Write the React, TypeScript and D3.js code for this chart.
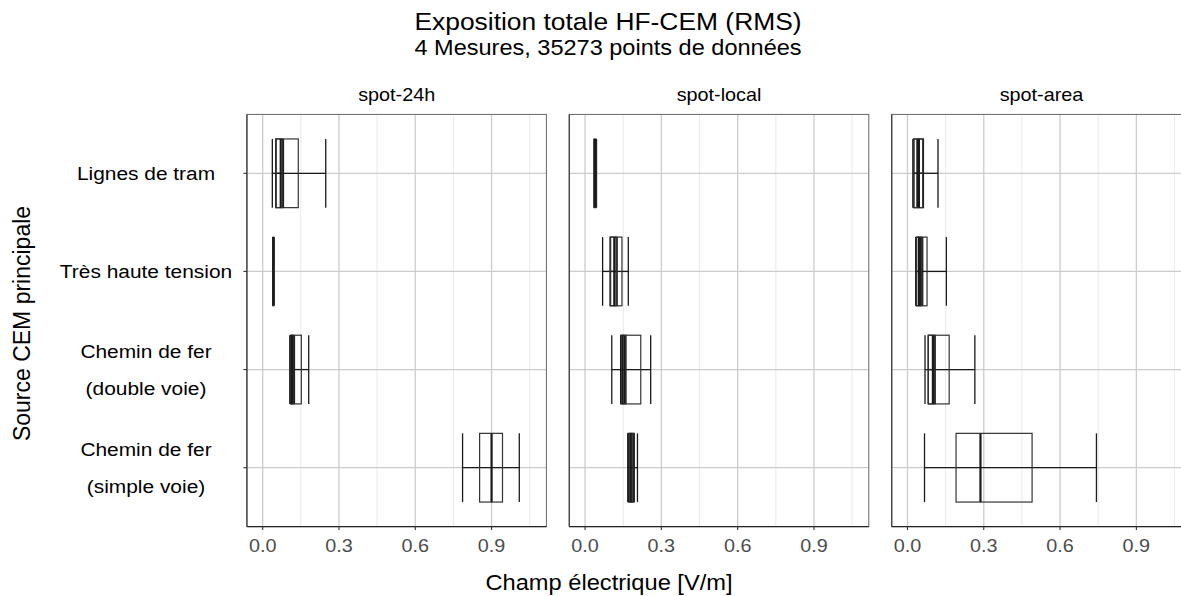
import React from "react";
import * as d3 from "d3";

const facets = ["spot-24h", "spot-local", "spot-area"];
const categories = ["Lignes de tram", "Très haute tension", "Chemin de fer (double voie)", "Chemin de fer (simple voie)"];
const categoryLines = [["Lignes de tram"], ["Très haute tension"], ["Chemin de fer", "(double voie)"], ["Chemin de fer", "(simple voie)"]];
const xTicks = [0, 0.3, 0.6, 0.9];
const xMinor = [0.15, 0.45, 0.75, 1.05];

// boxplot stats: facet, category index, min, q1, median, q3, max
const boxFacet = ["spot-24h", "spot-24h", "spot-24h", "spot-24h", "spot-24h", "spot-24h",
  "spot-local", "spot-local", "spot-local", "spot-local", "spot-local", "spot-local", "spot-local",
  "spot-area", "spot-area", "spot-area", "spot-area", "spot-area", "spot-area", "spot-area"];
const boxCat = [0, 0, 1, 2, 2, 3,
  0, 1, 1, 2, 2, 3, 3,
  0, 0, 1, 1, 2, 2, 3];
const boxMin = [0.038, 0.052, 0.040, 0.107, 0.108, 0.786,
  0.035, 0.069, 0.100, 0.105, 0.140, 0.168, 0.170,
  0.022, 0.022, 0.033, 0.033, 0.069, 0.082, 0.067];
const boxQ1 = [0.052, 0.052, 0.041, 0.110, 0.112, 0.853,
  0.036, 0.098, 0.100, 0.140, 0.145, 0.170, 0.174,
  0.026, 0.024, 0.036, 0.035, 0.082, 0.082, 0.191];
const boxMed = [0.080, 0.071, 0.042, 0.120, 0.116, 0.900,
  0.039, 0.124, 0.115, 0.157, 0.148, 0.190, 0.180,
  0.039, 0.045, 0.050, 0.045, 0.107, 0.100, 0.287];
const boxQ3 = [0.140, 0.079, 0.043, 0.152, 0.122, 0.943,
  0.043, 0.145, 0.124, 0.219, 0.160, 0.193, 0.188,
  0.063, 0.060, 0.077, 0.055, 0.164, 0.107, 0.490];
const boxMax = [0.248, 0.079, 0.045, 0.181, 0.125, 1.009,
  0.045, 0.170, 0.124, 0.258, 0.160, 0.206, 0.192,
  0.120, 0.062, 0.153, 0.060, 0.265, 0.107, 0.743];

const W = 1181, H = 596;
const FONT = "'Liberation Sans', Arial, Helvetica, sans-serif";
const panelW = 299.5;
const panelLeft0 = 246.9;
const panelGap = 22.9;
const yTop = 173.3, yBot = 467.7;

function T({ x, y, size, anchor = "middle", fill = "#000", sx = 1.1, children }: any) {
  return (
    <text transform={`translate(${x},${y}) scale(${sx},1)`} fontSize={size} textAnchor={anchor}
      fill={fill} fontFamily={FONT}>{children}</text>
  );
}

export default function App() {
  const y = d3.scalePoint<number>().domain(categories.map((_, i) => i)).range([yTop, yBot]);
  const step = y.step();
  const pTop = yTop - 0.6 * step;
  const pBot = yBot + 0.6 * step;
  const half = 0.35 * step;

  return (
    <svg width={W} height={H} style={{ position: "absolute", left: 0, top: 0, background: "#fff" }}>
      <rect x={0} y={0} width={W} height={H} fill="#fff" />
      <T x={608} y={29.5} size={24}>Exposition totale HF-CEM (RMS)</T>
      <T x={608} y={54.5} size={21.4}>4 Mesures, 35273 points de données</T>

      {facets.map((f, fi) => {
        const left = panelLeft0 + fi * (panelW + panelGap);
        const x = d3.scaleLinear().domain([-0.062, 1.1156]).range([left, left + panelW]);
        const idx = boxFacet.map((bf, i) => (bf === f ? i : -1)).filter((i) => i >= 0);
        return (
          <g key={f}>
            <T x={left + panelW / 2} y={101} size={18}>{f}</T>
            {xMinor.map((v) => (
              <line key={"mi" + v} x1={x(v)} x2={x(v)} y1={pTop} y2={pBot} stroke="#e3e3e3" strokeWidth={0.8} />
            ))}
            {xTicks.map((v) => (
              <line key={"ma" + v} x1={x(v)} x2={x(v)} y1={pTop} y2={pBot} stroke="#cccccc" strokeWidth={1.3} />
            ))}
            {categories.map((_, ci) => (
              <line key={"h" + ci} x1={left} x2={left + panelW} y1={y(ci)} y2={y(ci)} stroke="#cccccc" strokeWidth={1.3} />
            ))}
            {idx.map((i) => {
              const cy = y(boxCat[i])!;
              return (
                <g key={"b" + i} stroke="#1a1a1a" fill="none">
                  <line x1={x(boxMin[i])} x2={x(boxMax[i])} y1={cy} y2={cy} strokeWidth={1.3} />
                  <line x1={x(boxMin[i])} x2={x(boxMin[i])} y1={cy - half} y2={cy + half} strokeWidth={1.3} />
                  <line x1={x(boxMax[i])} x2={x(boxMax[i])} y1={cy - half} y2={cy + half} strokeWidth={1.3} />
                  <rect x={x(boxQ1[i])} y={cy - half} width={x(boxQ3[i]) - x(boxQ1[i])} height={2 * half}
                    strokeWidth={1.2} stroke="#333" />
                  <line x1={x(boxMed[i])} x2={x(boxMed[i])} y1={cy - half} y2={cy + half} strokeWidth={2.2} />
                </g>
              );
            })}
            <rect x={left} y={pTop} width={panelW} height={pBot - pTop} fill="none" stroke="#666" strokeWidth={1} />
            <line x1={left} x2={left + panelW} y1={pBot} y2={pBot} stroke="#222" strokeWidth={1.3} />
            <line x1={left} x2={left} y1={pTop} y2={pBot} stroke="#444" strokeWidth={1.3} />
            {xTicks.map((v) => (
              <g key={"t" + v}>
                <line x1={x(v)} x2={x(v)} y1={pBot} y2={pBot + 3.5} stroke="#333" strokeWidth={1.1} />
                <T x={x(v)} y={551.5} size={18} fill="#4d4d4d">{d3.format(".1f")(v)}</T>
              </g>
            ))}
            {fi === 0 && categories.map((_, ci) => (
              <line key={"yt" + ci} x1={left - 3.5} x2={left} y1={y(ci)} y2={y(ci)} stroke="#333" strokeWidth={1.1} />
            ))}
          </g>
        );
      })}

      {categoryLines.map((lines, ci) => {
        const cy = y(ci)!;
        const lh = 36.5;
        const first = cy + 6.8 - ((lines.length - 1) * lh) / 2;
        return lines.map((ln, li) => (
          <T key={ci + "-" + li} x={146} y={first + li * lh} size={19}>{ln}</T>
        ));
      })}

      <T x={609} y={590} size={21.5}>Champ électrique [V/m]</T>
      <text transform={`translate(30,323.5) rotate(-90)`} fontSize={23} textAnchor="middle" fontFamily={FONT} fill="#000">
        Source CEM principale
      </text>
    </svg>
  );
}
